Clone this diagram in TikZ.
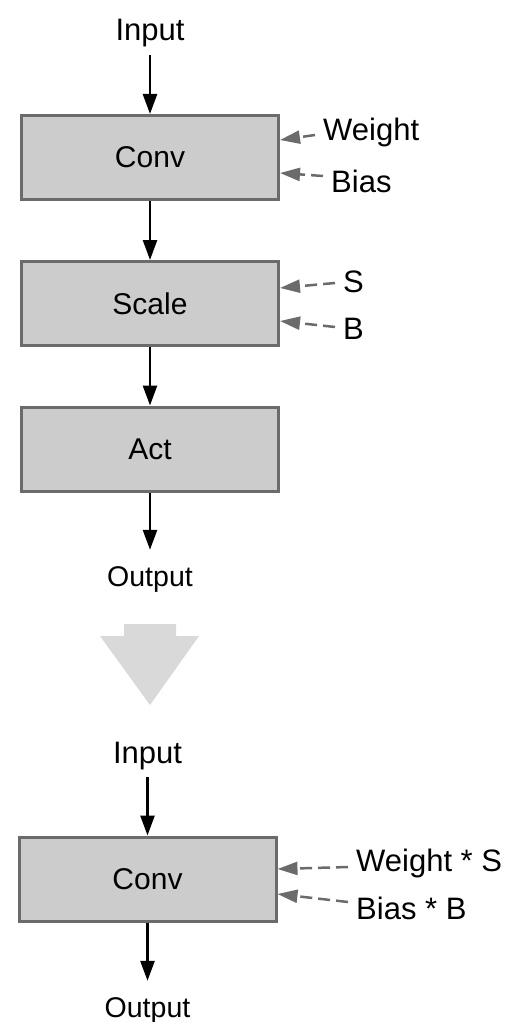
\documentclass[tikz,border=0pt]{standalone}
\usepackage{fontspec}
\setmainfont{Liberation Sans}
\usetikzlibrary{positioning, arrows.meta}
\definecolor{boxfill}{HTML}{CCCCCC}
\definecolor{boxline}{HTML}{6B6B6B}
\definecolor{paramgray}{HTML}{6B6B6B}
\definecolor{foldgray}{HTML}{D9D9D9}
\tikzset{
        >={Triangle[length=20pt,width=14pt]}, % solid black heads
        block/.style={draw=boxline, fill=boxfill, line width=3pt,
                minimum width=257pt, minimum height=84pt,
                font=\fontsize{30}{36}\selectfont},
        txt/.style={inner sep=8pt, text height=22pt, text depth=6pt,
                font=\fontsize{31}{37}\selectfont},
        outtxt/.style={txt, font=\fontsize{28.5}{34}\selectfont},
        flow/.style={->, line width=2.6pt},
        param/.style={-{Triangle[length=20pt,width=13pt]}, draw=paramgray,
                line width=2.5pt, dash pattern=on 12pt off 6pt}
        }

\begin{document}
\begin{tikzpicture}[x=1pt, y=1pt]
        \useasboundingbox (0,0) rectangle (509,-1022);
        % before folding
        \node[txt] (in1) at (150,-33) {Input};
        \node[block, node distance=124.5pt, below of=in1] (conv1) {Conv};
        \node[block, node distance=146pt, below of=conv1] (scale) {Scale};
        \node[block, node distance=145.5pt, below of=scale] (act) {Act};
        \node[outtxt, node distance=129pt, below of=act] (out1) {Output};
        \node[txt, right=35pt of conv1.east, yshift=25.5pt] (wgt) {Weight};
        \node[txt, right=43pt of conv1.east, yshift=-26.5pt] (bias) {Bias};
        \node[txt, right=55pt of scale.east, yshift=19.5pt] (s) {S};
        \node[txt, right=55pt of scale.east, yshift=-27.5pt] (b) {B};
        \draw[flow] (in1) -- (conv1);
        \draw[flow] (conv1) -- (scale);
        \draw[flow] (scale) -- (act);
        \draw[flow, shorten >=6pt] (act) -- (out1);
        \draw[param] ([yshift=-3pt]wgt.west) -- ([yshift=17.5pt]conv1.east);
        \draw[param] ([yshift=8pt]bias.west) -- ([yshift=-15.5pt]conv1.east);
        \draw[param] ([yshift=1pt]s.west) -- ([yshift=15.5pt]scale.east);
        \draw[param] ([yshift=4pt]b.west) -- ([yshift=-17.5pt]scale.east);
        % fold arrow
        \fill[foldgray] (124,-624) -- (176,-624) -- (176,-636) -- (199,-636)
                -- (150,-705) -- (100,-636) -- (124,-636) -- cycle;
        % after folding
        \node[txt] (in2) at (147.5,-755) {Input};
        \node[block, node distance=124pt, below of=in2] (conv2) {Conv};
        \node[outtxt, node distance=130pt, below of=conv2] (out2) {Output};
        \node[txt, right=70.5pt of conv2.east, yshift=16pt] (ws) {Weight * S};
        \node[txt, right=70.5pt of conv2.east, yshift=-32pt] (bb) {Bias * B};
        \draw[flow] (in2) -- (conv2);
        \draw[flow, shorten >=6pt] (conv2) -- (out2);
        \draw[param] ([yshift=-4pt]ws.west) -- ([yshift=10pt]conv2.east);
        \draw[param] ([yshift=9pt]bb.west) -- ([yshift=-15pt]conv2.east);
\end{tikzpicture}
\end{document}
